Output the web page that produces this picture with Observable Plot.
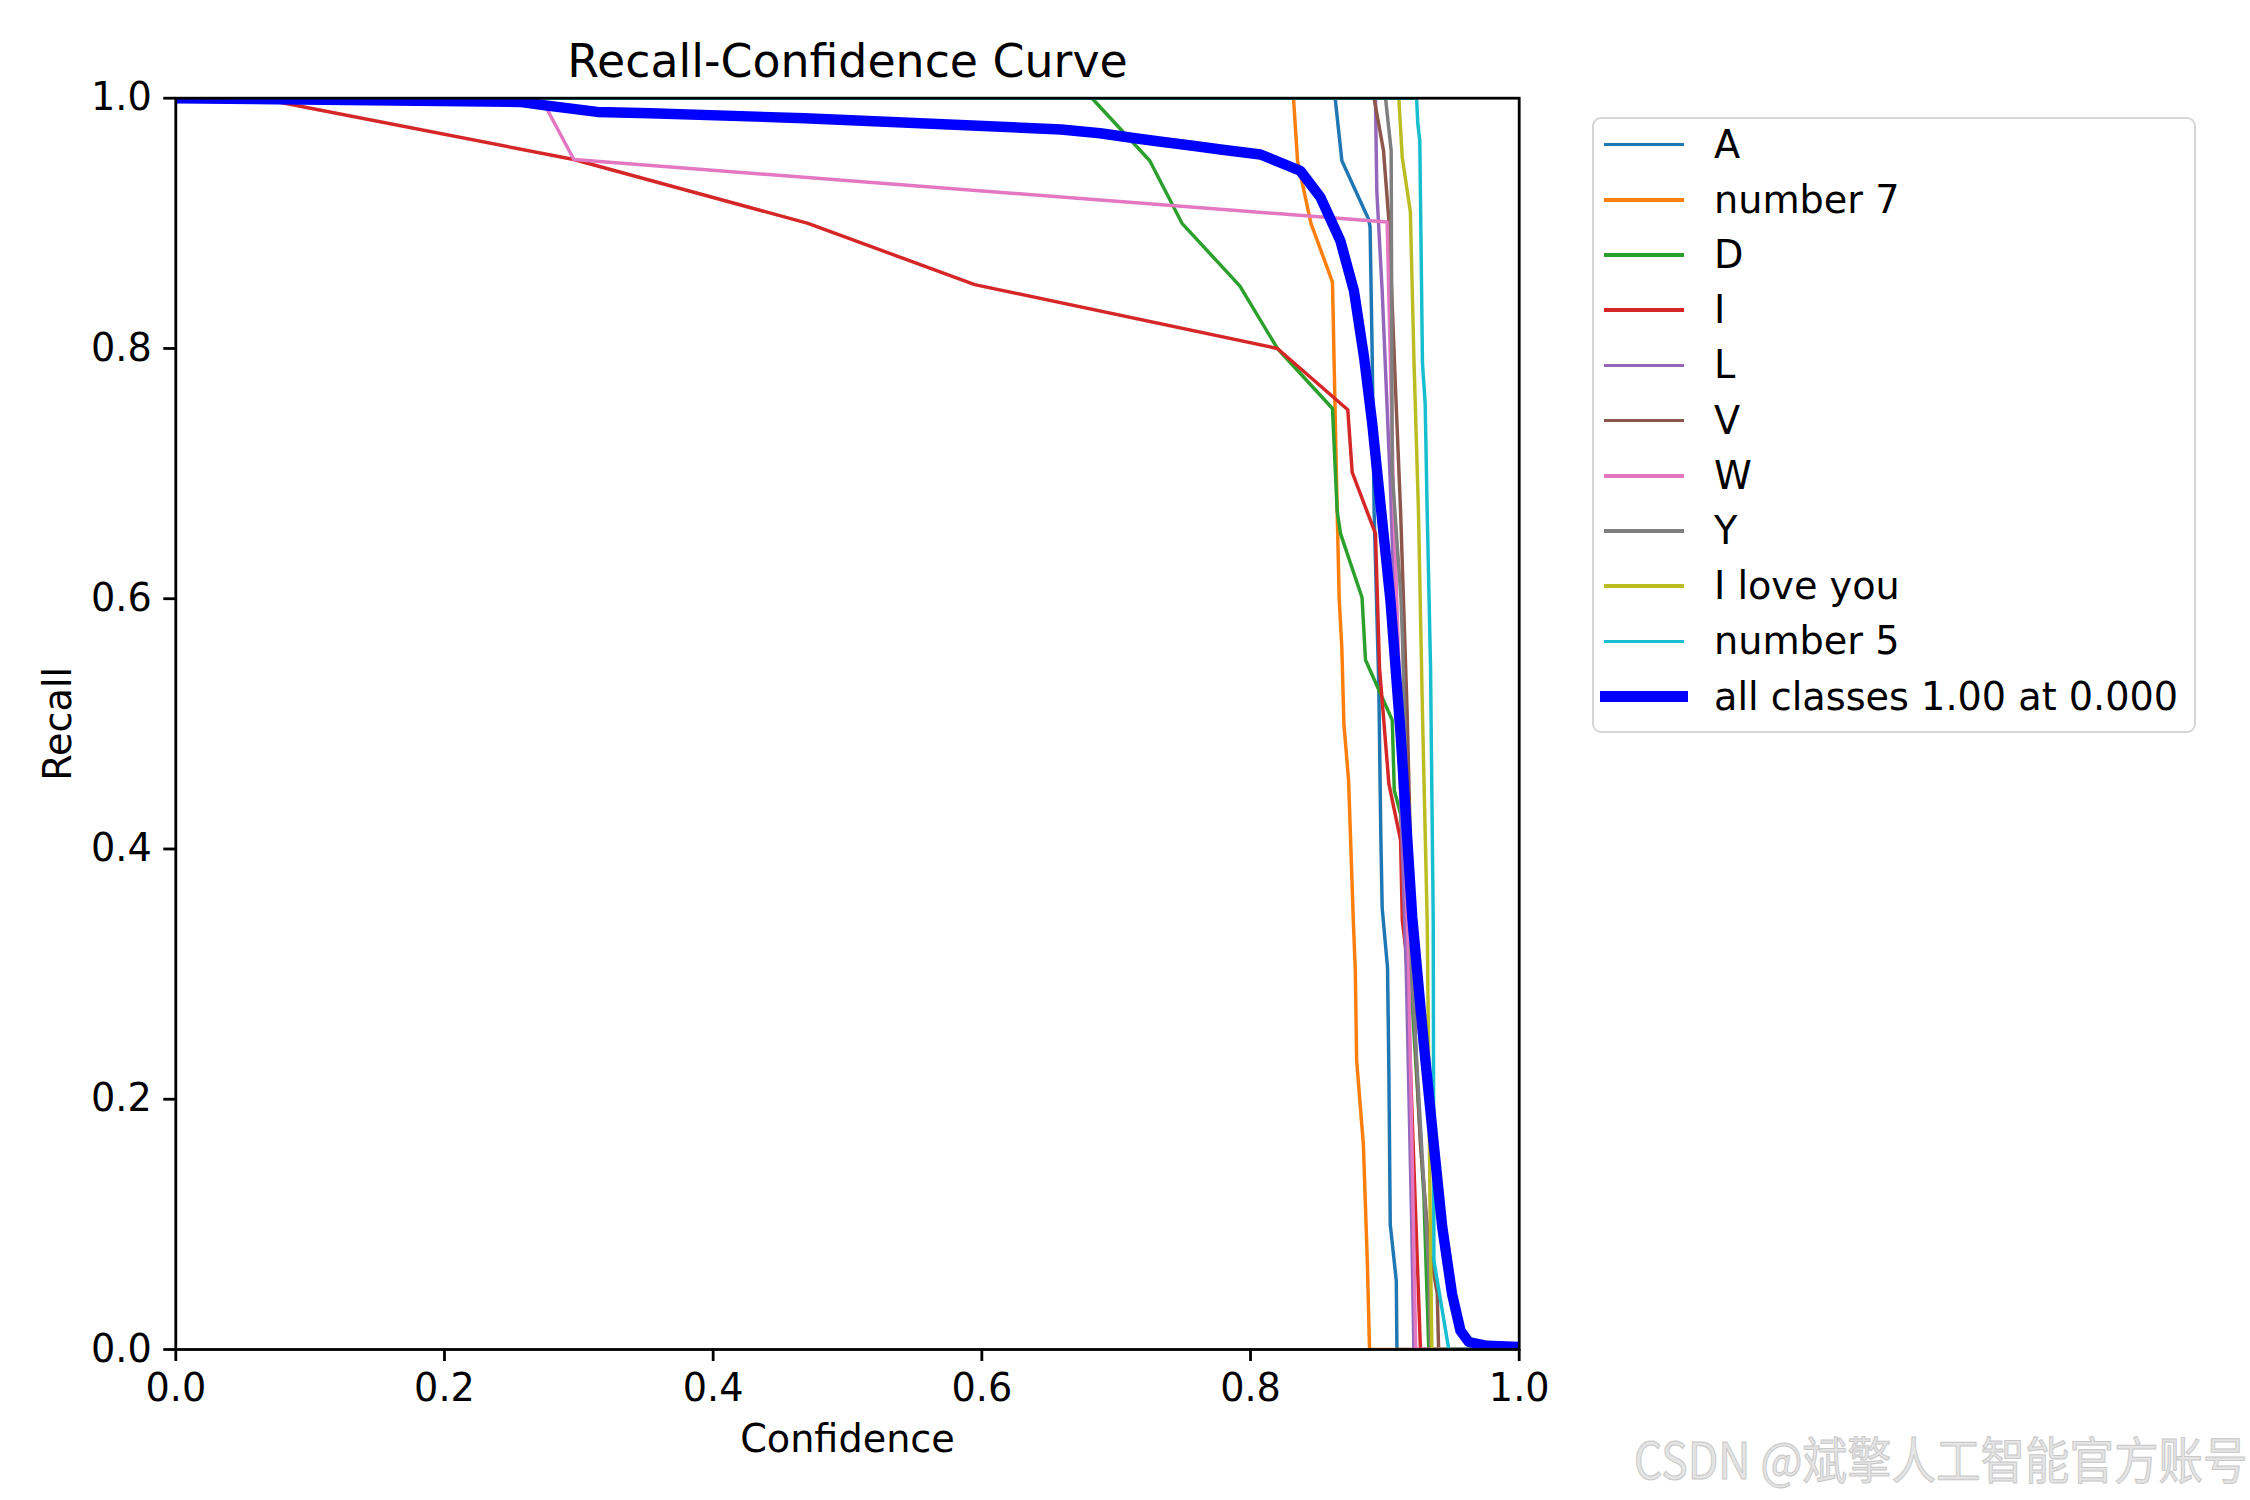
<!DOCTYPE html>
<html>
<head>
<meta charset="utf-8">
<script src="https://cdn.jsdelivr.net/npm/d3@7"></script>
<script src="https://cdn.jsdelivr.net/npm/@observablehq/plot@0.6"></script>
<style>
  html, body { margin: 0; padding: 0; background: white; }
  #fig { position: relative; width: 2250px; height: 1500px; background: white; overflow: hidden; }
  #chart { position: absolute; left: 0; top: 0; }
  #legend { position: absolute; left: 1592px; top: 117px; width: 604px; height: 616px; box-sizing: border-box;
            border: 2.8px solid #d6d6d6; border-radius: 9px; background: white; font-family: 'DejaVu Sans'; }
  .row { position: absolute; left: 0; height: 0; }
  .sw { position: absolute; }
  .lab { position: absolute; left: 120px; top: 0; font-size: 38.2px; line-height: 1; white-space: nowrap; transform: translateY(-50%); color: black; }
  #wm { position: absolute; left: 1634px; top: 1432px; font-family: 'Noto Sans CJK SC'; font-size: 50px; line-height: 1;
        color: #e4e4e4; -webkit-text-stroke: 1px #c8c8c8; transform: scaleX(0.89); transform-origin: left top; white-space: nowrap; }
</style>
</head>
<body>
<div id="fig">
  <div id="chart"></div>
  <div id="legend"></div>
  <div id="wm">CSDN @斌擎人工智能官方账号</div>
</div>
<script>
// ---- data ----
const classNames = ["A", "number 7", "D", "I", "L", "V", "W", "Y", "I love you", "number 5"];
const classColors = ["#1f77b4", "#ff7f0e", "#2ca02c", "#d62728", "#9467bd", "#8c564b", "#e377c2", "#7f7f7f", "#bcbd22", "#17becf"];

const confA = [0, 0.863, 0.868, 0.888, 0.889, 0.8906, 0.892, 0.8955, 0.897, 0.898, 0.902, 0.903, 0.904, 0.9085, 0.909, 1.0];
const recallA = [1, 1, 0.95, 0.903, 0.897, 0.793, 0.67, 0.53, 0.41, 0.353, 0.305, 0.22, 0.10, 0.055, 0, 0];

const conf7 = [0, 0.832, 0.835, 0.845, 0.861, 0.8645, 0.866, 0.868, 0.8695, 0.873, 0.8765, 0.878, 0.879, 0.884, 0.887, 0.8886, 1.0];
const recall7 = [1, 1, 0.95, 0.90, 0.853, 0.67, 0.60, 0.56, 0.50, 0.455, 0.343, 0.303, 0.231, 0.164, 0.068, 0, 0];

const confD = [0, 0.682, 0.725, 0.749, 0.792, 0.820, 0.861, 0.8645, 0.867, 0.883, 0.8856, 0.9055, 0.907, 0.9117, 0.929, 0.9327, 1.0];
const recallD = [1, 1, 0.95, 0.90, 0.85, 0.80, 0.752, 0.67, 0.652, 0.601, 0.551, 0.503, 0.447, 0.428, 0.124, 0, 0];

const confI = [0, 0.062, 0.2963, 0.4706, 0.5947, 0.820, 0.8724, 0.8757, 0.893, 0.896, 0.903, 0.9117, 0.913, 0.916, 0.9265, 1.0];
const recallI = [1, 1, 0.951, 0.90, 0.851, 0.80, 0.751, 0.701, 0.652, 0.545, 0.452, 0.407, 0.343, 0.316, 0, 0];

const confL = [0, 0.893, 0.894, 0.898, 0.904, 0.910, 0.916, 0.920, 0.9216, 1.0];
const recallL = [1, 1, 0.926, 0.846, 0.694, 0.50, 0.30, 0.10, 0, 0];

const confV = [0, 0.892, 0.899, 0.903, 0.908, 0.9117, 0.9166, 0.9228, 0.9265, 0.9327, 0.939, 0.940, 1.0];
const recallV = [1, 1, 0.958, 0.902, 0.766, 0.67, 0.508, 0.244, 0.164, 0.084, 0.0445, 0, 0];

const confW = [0, 0.272, 0.2963, 0.9017, 0.9067, 0.9176, 0.923, 1.0];
const recallW = [1, 1, 0.951, 0.901, 0.67, 0.311, 0, 0];

const confY = [0, 0.9005, 0.9047, 0.9055, 0.912, 0.913, 0.920, 0.9327, 0.934, 1.0];
const recallY = [1, 1, 0.958, 0.70, 0.60, 0.57, 0.30, 0.063, 0, 0];

const confLove = [0, 0.9104, 0.9129, 0.919, 0.9216, 0.925, 0.928, 0.9315, 0.934, 0.935, 1.0];
const recallLove = [1, 1, 0.953, 0.909, 0.793, 0.67, 0.508, 0.343, 0.08, 0, 0];

const conf5 = [0, 0.9236, 0.9245, 0.926, 0.928, 0.930, 0.9315, 0.934, 0.936, 0.9365, 0.9476, 1.0];
const recall5 = [1, 1, 0.98, 0.966, 0.788, 0.756, 0.67, 0.545, 0.343, 0.071, 0, 0];

const confAll = [0, 0.256, 0.2765, 0.3137, 0.353, 0.468, 0.597, 0.659, 0.688, 0.714, 0.735, 0.757, 0.7777, 0.8074, 0.837, 0.852, 0.8669, 0.877, 0.8845, 0.8906, 0.8968, 0.9042, 0.9117, 0.9204, 0.929, 0.9364, 0.9427, 0.950, 0.9563, 0.9625, 0.976, 1.0];
const recallAll = [1.0, 0.997, 0.994, 0.989, 0.988, 0.984, 0.978, 0.975, 0.972, 0.968, 0.965, 0.962, 0.959, 0.955, 0.942, 0.921, 0.886, 0.846, 0.793, 0.740, 0.675, 0.598, 0.492, 0.3455, 0.244, 0.164, 0.098, 0.0445, 0.015, 0.006, 0.003, 0.002];

const allLabel = "all classes 1.00 at 0.000";
const xTicks = [0, 0.2, 0.4, 0.6, 0.8, 1.0];
const yTicks = [0, 0.2, 0.4, 0.6, 0.8, 1.0];

// ---- build tables ----
const seriesConf = [confA, conf7, confD, confI, confL, confV, confW, confY, confLove, conf5];
const seriesRecall = [recallA, recall7, recallD, recallI, recallL, recallV, recallW, recallY, recallLove, recall5];
const classRows = [];
classNames.forEach((name, i) => {
  seriesConf[i].forEach((c, j) => classRows.push({series: name, x: c, y: seriesRecall[i][j]}));
});
const allRows = confAll.map((c, j) => ({x: c, y: recallAll[j]}));

const FS = 38.2, TFS = 45.8;
const W = 1570, H = 1500;
const chart = Plot.plot({
  width: W,
  height: H,
  marginLeft: 175.3,
  marginRight: W - 1518.7,
  marginTop: 97.7,
  marginBottom: H - 1349,
  style: {fontFamily: "'DejaVu Sans'", fontSize: FS + "px", background: "white", color: "black", overflow: "visible"},
  x: {domain: [0, 1]},
  y: {domain: [0, 1]},
  color: {domain: classNames, range: classColors},
  marks: [
    Plot.line(classRows, {x: "x", y: "y", z: "series", stroke: "series", strokeWidth: 3.47, strokeLinejoin: "round", clip: true}),
    Plot.line(allRows, {x: "x", y: "y", stroke: "#0000ff", strokeWidth: 10.4, strokeLinejoin: "round", clip: true}),
    Plot.frame({stroke: "black", strokeWidth: 2.8}),
    Plot.axisX({ticks: xTicks, tickFormat: d => d.toFixed(1), tickSize: 12, tickPadding: 12, strokeWidth: 2.8, fontSize: FS, fill: "black", label: null}),
    Plot.axisY({ticks: yTicks, tickFormat: d => d.toFixed(1), tickSize: 12, tickPadding: 12, strokeWidth: 2.8, fontSize: FS, fill: "black", label: null}),
    Plot.text(["Recall-Confidence Curve"], {text: d => d, frameAnchor: "top", lineAnchor: "middle", dy: -36, fontSize: TFS, fill: "black"}),
    Plot.text(["Confidence"], {text: d => d, frameAnchor: "bottom", lineAnchor: "middle", dy: 90, fontSize: FS, fill: "black"}),
    Plot.text(["Recall"], {text: d => d, frameAnchor: "left", textAnchor: "middle", lineAnchor: "middle", dx: -117, rotate: -90, fontSize: FS, fill: "black"})
  ]
});
document.getElementById("chart").appendChild(chart);

// ---- legend ----
const legend = document.getElementById("legend");
const entries = classNames.map((n, i) => ({name: n, color: classColors[i], thick: false}))
  .concat([{name: allLabel, color: "#0000ff", thick: true}]);
entries.forEach((e, i) => {
  const row = document.createElement("div");
  row.className = "row";
  row.style.top = (25.6 + i * 55.2) + "px";
  const sw = document.createElement("div");
  sw.className = "sw";
  const h = e.thick ? 10.4 : 3.47;
  sw.style.left = (e.thick ? 5.7 : 9.7) + "px";
  sw.style.width = (e.thick ? 88 : 80.4) + "px";
  sw.style.height = h + "px";
  sw.style.top = (-h / 2) + "px";
  sw.style.background = e.color;
  const lab = document.createElement("div");
  lab.className = "lab";
  lab.textContent = e.name;
  row.appendChild(sw);
  row.appendChild(lab);
  legend.appendChild(row);
});
</script>
</body>
</html>
